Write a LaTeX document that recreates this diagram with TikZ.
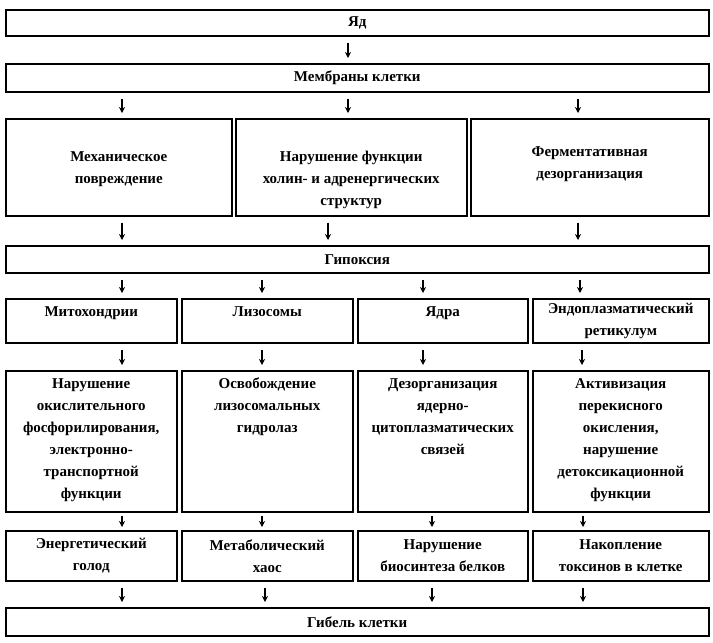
\documentclass[tikz,border=0pt]{standalone}
\usepackage{fontspec}
\setmainfont{Liberation Serif}
\usepackage{tikz}
\usetikzlibrary{arrows.meta, positioning}

\begin{document}
\begin{tikzpicture}[x=1pt, y=-1pt,
    box/.style={draw, line width=1.5pt, anchor=north west, inner sep=0pt},
    txt/.style={align=center, inner sep=0pt, font=\fontsize{15}{22}\selectfont\bfseries},
    arr/.style={-{Stealth[length=6pt, width=6pt]}, line width=1.1pt, shorten <=6pt, shorten >=5pt}]
    \useasboundingbox (0,0) rectangle (713,643);

    % Top of the chain
    \node[box, txt, minimum width=703pt, minimum height=26pt] (yad) at (5,9) {Яд};
    \node[box, txt, minimum width=703pt, minimum height=28pt] (membr) at (5,63) {Мембраны клетки};

    % Three damage types
    \node[box, minimum width=226pt, minimum height=97pt] (r3a) at (5,118) {};
    \node[box, minimum width=231pt, minimum height=97pt] (r3b) at (235,118) {};
    \node[box, minimum width=238pt, minimum height=97pt] (r3c) at (470,118) {};
    \node[txt, below=33pt of r3a.north] (t3a) {Механическое\\повреждение};
    \node[txt, below=33pt of r3b.north] (t3b) {Нарушение функции\\холин- и адренергических\\структур};
    \node[txt, below=28pt of r3c.north] (t3c) {Ферментативная\\дезорганизация};

    \node[box, txt, minimum width=703pt, minimum height=27pt] (gip) at (5,245) {Гипоксия};

    % Organelles
    \node[box, minimum width=171pt, minimum height=44pt] (r4a) at (5,298) {};
    \node[box, minimum width=171pt, minimum height=44pt] (r4b) at (181,298) {};
    \node[box, minimum width=170pt, minimum height=44pt] (r4c) at (357,298) {};
    \node[box, minimum width=176pt, minimum height=44pt] (r4d) at (532,298) {};
    \node[txt, below=8pt of r4a.north] (t4a) {Митохондрии};
    \node[txt, below=8pt of r4b.north] (t4b) {Лизосомы};
    \node[txt, below=8pt of r4c.north] (t4c) {Ядра};
    \node[txt, below=5pt of r4d.north] (t4d) {Эндоплазматический\\ретикулум};

    % Damage of organelles
    \node[box, minimum width=171pt, minimum height=141pt] (r5a) at (5,370) {};
    \node[box, minimum width=171pt, minimum height=141pt] (r5b) at (181,370) {};
    \node[box, minimum width=170pt, minimum height=141pt] (r5c) at (357,370) {};
    \node[box, minimum width=176pt, minimum height=141pt] (r5d) at (532,370) {};
    \node[txt, below=8pt of r5a.north] (t5a) {Нарушение\\окислительного\\фосфорилирования,\\электронно-\\транспортной\\функции};
    \node[txt, below=8pt of r5b.north] (t5b) {Освобождение\\лизосомальных\\гидролаз};
    \node[txt, below=8pt of r5c.north] (t5c) {Дезорганизация\\ядерно-\\цитоплазматических\\связей};
    \node[txt, below=8pt of r5d.north] (t5d) {Активизация\\перекисного\\окисления,\\нарушение\\детоксикационной\\функции};

    % Consequences
    \node[box, txt, minimum width=171pt, minimum height=50pt] (r6a) at (5,530) {Энергетический\\голод};
    \node[box, txt, minimum width=171pt, minimum height=50pt] (r6b) at (181,530) {Метаболический\\хаос};
    \node[box, txt, minimum width=170pt, minimum height=50pt] (r6c) at (357,530) {Нарушение\\биосинтеза белков};
    \node[box, txt, minimum width=176pt, minimum height=50pt] (r6d) at (532,530) {Накопление\\токсинов в клетке};

    \node[box, txt, minimum width=703pt, minimum height=28pt] (gib) at (5,607) {Гибель клетки};

    % Arrows
    \draw[arr] (348,0 |- yad.south) -- (348,0 |- membr.north);
    \foreach \x in {122,348,578}
        \draw[arr] (\x,0 |- membr.south) -- (\x,0 |- r3a.north);
    \foreach \x in {122,328,578}
        \draw[arr] (\x,0 |- r3a.south) -- (\x,0 |- gip.north);
    \foreach \x in {122,262,423,580}
        \draw[arr] (\x,0 |- gip.south) -- (\x,0 |- r4a.north);
    \foreach \x in {122,262,423,582}
        \draw[arr] (\x,0 |- r4a.south) -- (\x,0 |- r5a.north);
    \foreach \x in {122,262,432,583}
        \draw[arr, shorten <=3pt, shorten >=3pt] (\x,0 |- r5a.south) -- (\x,0 |- r6a.north);
    \foreach \x in {122,265,432,583}
        \draw[arr] (\x,0 |- r6a.south) -- (\x,0 |- gib.north);
\end{tikzpicture}
\end{document}
